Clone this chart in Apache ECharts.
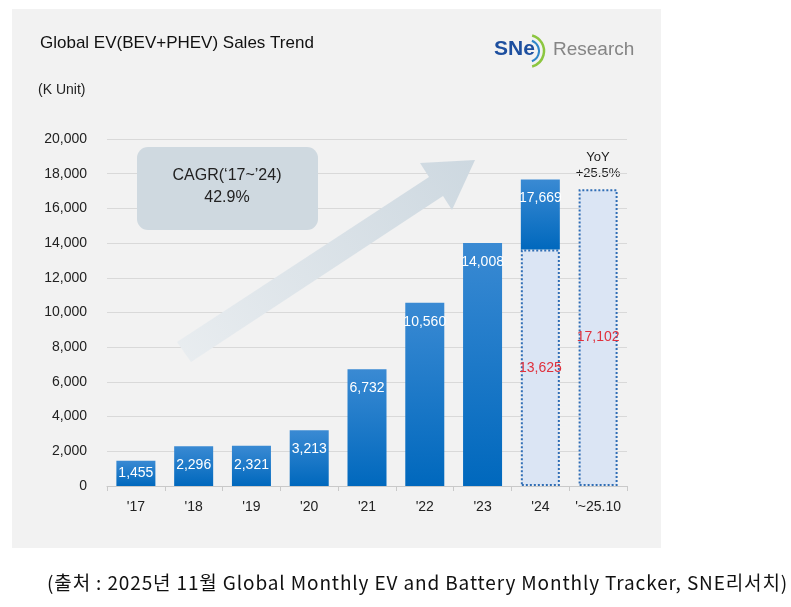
<!DOCTYPE html>
<html>
<head>
    <meta charset="UTF-8">
    <title>Global EV(BEV+PHEV) Sales Trend</title>
    <script src="https://cdn.jsdelivr.net/npm/echarts@6.0.0/dist/echarts.min.js"></script>
    <style>
        * {
            margin: 0;
            padding: 0;
            box-sizing: border-box;
        }

        body {
            background: #fff;
            width: 791px;
            height: 607px;
            position: relative;
            overflow: hidden;
        }

        #panel {
            position: absolute;
            left: 12px;
            top: 9px;
            width: 649px;
            height: 539px;
            background: #f2f2f2;
        }

        #chart {
            position: absolute;
            left: 0;
            top: 0;
            width: 791px;
            height: 607px;
        }

        .source {
            position: absolute;
            left: 47px;
            top: 568px;
            line-height: 28px;
            white-space: nowrap;
            font-family: 'Noto Sans CJK KR', sans-serif;
            font-size: 19px;
            color: #111;
        }
    </style>
</head>
<body>
    <div id="panel"></div>
    <div id="chart"></div>
    <div class="source" id="source">(출처 : 2025년 11월 Global Monthly EV and Battery Monthly Tracker, SNE리서치)</div>

    <script>
        // data
        const years = ["'17", "'18", "'19", "'20", "'21", "'22", "'23", "'24", "'~25.10"];
        const sales = [1455, 2296, 2321, 3213, 6732, 10560, 14008, 17669];
        // same-period (Jan~Oct) figures, shown as dotted bars
        const ytd = [null, null, null, null, null, null, null, 13625, 17102];
        const yTicks = { min: 0, max: 20000, interval: 2000 };

        const fmt = function (v) {
            return String(v).replace(/\B(?=(\d{3})+(?!\d))/g, ',');
        };

        // top (dark) part of each bar: full value, or the part above the dotted bar for '24
        const darkPart = years.map(function (y, i) {
            if (sales[i] == null) return null;
            return ytd[i] != null ? sales[i] - ytd[i] : sales[i];
        });

        // stretch the source line to the width it has in the original
        const src = document.getElementById('source');
        const extra = 741 - src.getBoundingClientRect().width;
        if (extra > 0) src.style.letterSpacing = (extra / src.textContent.length).toFixed(2) + 'px';

        const chart = echarts.init(document.getElementById('chart'));
        const font = 'Liberation Sans, Arial, sans-serif';

        const option = {
            backgroundColor: 'transparent',
            animation: false,
            textStyle: { fontFamily: font },
            grid: {
                left: 107,
                right: 164,
                top: 139,
                bottom: 121
            },
            xAxis: {
                type: 'category',
                data: years,
                axisLine: { lineStyle: { color: '#c9c9c9', width: 1 } },
                axisTick: { show: true, length: 5, lineStyle: { color: '#c9c9c9' } },
                axisLabel: { interval: 0, color: '#222', fontSize: 14, margin: 14, fontFamily: font }
            },
            yAxis: {
                type: 'value',
                min: yTicks.min,
                max: yTicks.max,
                interval: yTicks.interval,
                axisLine: { show: false },
                axisTick: { show: false },
                axisLabel: {
                    color: '#222',
                    fontSize: 14,
                    margin: 20,
                    fontFamily: font,
                    formatter: function (v) { return fmt(v); }
                },
                splitLine: { lineStyle: { color: '#d9d9d9', width: 1 } }
            },
            series: [
                {
                    name: 'YTD',
                    type: 'bar',
                    stack: 'ev',
                    barWidth: 39,
                    data: ytd,
                    itemStyle: {
                        color: '#dbe5f4',
                        borderColor: '#2f6db5',
                        borderWidth: 2,
                        borderType: 'dotted'
                    },
                    label: {
                        show: true,
                        position: 'inside',
                        color: '#e0303c',
                        fontSize: 14,
                        fontFamily: font,
                        formatter: function (p) { return fmt(p.value); }
                    }
                },
                {
                    name: 'Sales',
                    type: 'bar',
                    stack: 'ev',
                    barWidth: 39,
                    data: darkPart.map(function (v, i) {
                        if (v == null) return null;
                        // short bar: centre the label
                        if (v < 2000) return { value: v, label: { position: 'inside' } };
                        return v;
                    }),
                    itemStyle: {
                        color: new echarts.graphic.LinearGradient(0, 0, 0, 1, [
                            { offset: 0, color: '#3a8ad3' },
                            { offset: 1, color: '#0068bd' }
                        ])
                    },
                    label: {
                        show: true,
                        position: 'insideTop',
                        distance: 12,
                        color: '#fff',
                        fontSize: 14,
                        fontFamily: font,
                        formatter: function (p) { return fmt(sales[p.dataIndex]); }
                    }
                }
            ],
            graphic: [
                {
                    type: 'text',
                    left: 40,
                    top: 35,
                    style: {
                        text: 'Global EV(BEV+PHEV) Sales Trend',
                        fill: '#111',
                        font: '17px ' + font
                    }
                },
                {
                    type: 'text',
                    left: 38,
                    top: 83,
                    style: {
                        text: '(K Unit)',
                        fill: '#222',
                        font: '14px ' + font
                    }
                },
                // logo
                {
                    type: 'text',
                    left: 494,
                    top: 39,
                    style: {
                        text: 'SNe',
                        fill: '#1d4f9f',
                        font: 'bold 21px ' + font
                    }
                },
                {
                    type: 'arc',
                    shape: { cx: 528, cy: 51, r: 11, startAngle: -Math.PI / 2.6, endAngle: Math.PI / 2.6 },
                    style: { stroke: '#2f86c8', lineWidth: 2, fill: null }
                },
                {
                    type: 'arc',
                    shape: { cx: 528, cy: 51, r: 16, startAngle: -Math.PI / 2.4, endAngle: Math.PI / 2.4 },
                    style: { stroke: '#8cc63f', lineWidth: 2.5, fill: null }
                },
                {
                    type: 'text',
                    left: 553,
                    top: 40,
                    style: {
                        text: 'Research',
                        fill: '#858585',
                        font: '19px ' + font
                    }
                },
                // growth arrow
                {
                    type: 'polygon',
                    z: 1,
                    shape: {
                        points: [
                            [177, 342], [429, 177], [420, 163], [475, 160],
                            [452, 210], [443, 196], [191, 362]
                        ]
                    },
                    style: {
                        fill: new echarts.graphic.LinearGradient(1, 0, 0, 1, [
                            { offset: 0, color: '#cdd8e0' },
                            { offset: 1, color: '#e9edf0' }
                        ])
                    }
                },
                // CAGR box
                {
                    type: 'rect',
                    z: 2,
                    shape: { x: 137, y: 147, width: 181, height: 83, r: 11 },
                    style: { fill: '#cfd9e0' }
                },
                {
                    type: 'text',
                    z: 3,
                    x: 227,
                    y: 176,
                    style: {
                        text: 'CAGR(‘17~’24)',
                        fill: '#222',
                        font: '16px ' + font,
                        align: 'center',
                        verticalAlign: 'middle'
                    }
                },
                {
                    type: 'text',
                    z: 3,
                    x: 227,
                    y: 198,
                    style: {
                        text: '42.9%',
                        fill: '#222',
                        font: '16px ' + font,
                        align: 'center',
                        verticalAlign: 'middle'
                    }
                },
                // YoY note
                {
                    type: 'text',
                    x: 598,
                    y: 157,
                    style: {
                        text: 'YoY',
                        fill: '#222',
                        font: '13px ' + font,
                        align: 'center',
                        verticalAlign: 'middle'
                    }
                },
                {
                    type: 'text',
                    x: 598,
                    y: 173,
                    style: {
                        text: '+25.5%',
                        fill: '#222',
                        font: '13px ' + font,
                        align: 'center',
                        verticalAlign: 'middle'
                    }
                }
            ]
        };

        chart.setOption(option);
    </script>
</body>
</html>
